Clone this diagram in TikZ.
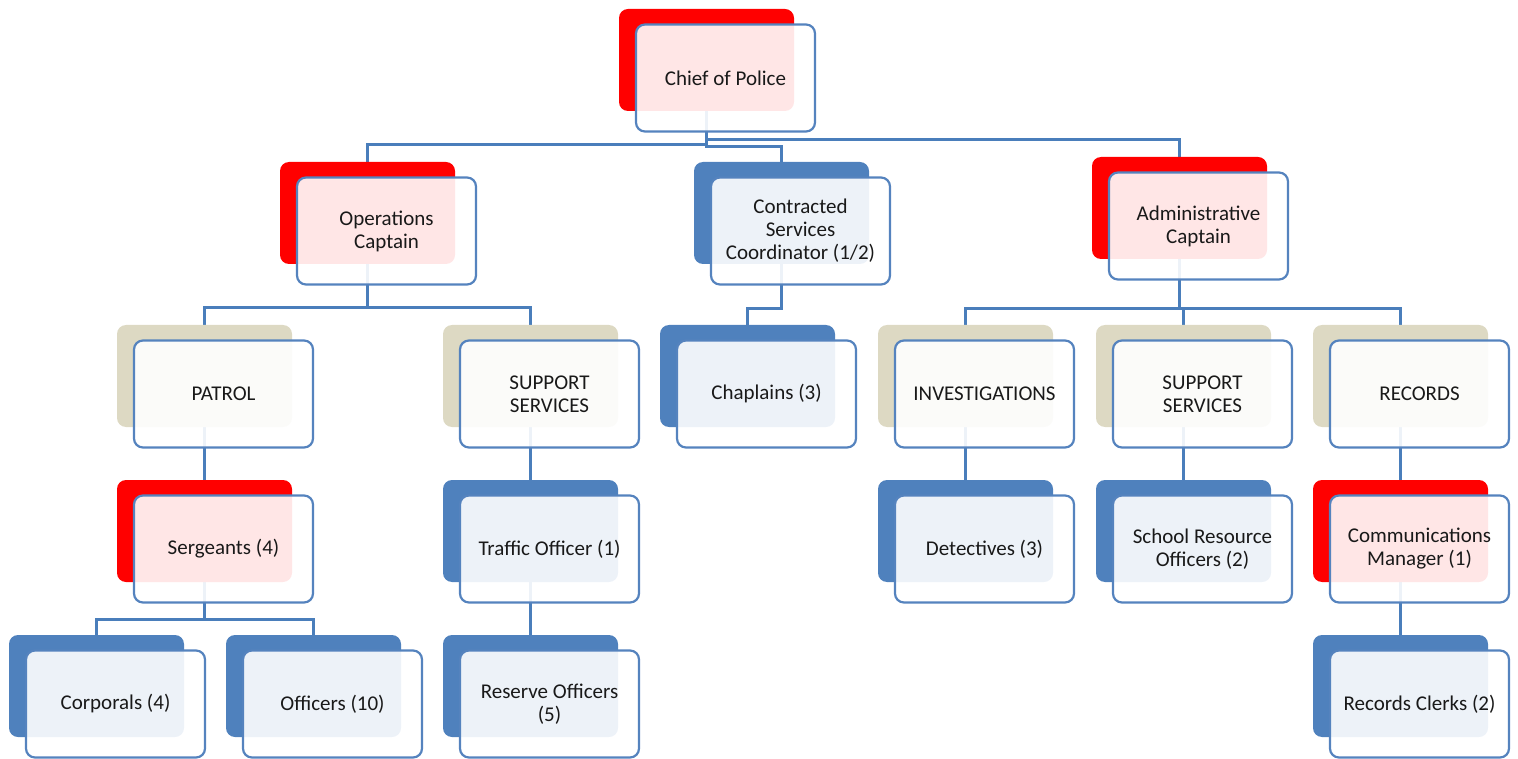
\documentclass[tikz,border=0pt]{standalone}
\usepackage{fontspec}
\setmainfont{Carlito}
\usepackage{xcolor}
\usetikzlibrary{backgrounds}
\definecolor{chiefred}{HTML}{FF0000}
\definecolor{tanback}{HTML}{DDD9C3}
\definecolor{blueback}{HTML}{4F81BD}
\definecolor{linkblue}{HTML}{4A7EBB}
\definecolor{edgeblue}{HTML}{5583BE}

\begin{document}
\begin{tikzpicture}[x=1pt, y=-1pt,
    back/.style={rectangle, rounded corners=9pt, minimum width=175pt, minimum height=102pt, inner sep=0pt},
    front/.style={rectangle, rounded corners=9pt, minimum width=179pt, minimum height=107pt, inner sep=0pt,
        draw=edgeblue, line width=2.2pt, fill=white, fill opacity=0.9, text opacity=1,
        align=center, text=black!90, font=\fontsize{21}{23}\selectfont},
    link/.style={draw=linkblue, line width=3pt}]
    \useasboundingbox (0,0) rectangle (1518,759);

    \node[back, fill=chiefred] (chiefB) at (706.5,60) {};
    \node[front] (chief) at (725.5,78) {Chief of Police};

    \node[back, fill=chiefred] (opsB) at (367.5,213) {};
    \node[front] (ops) at (386.5,231) {Operations\\Captain};
    \node[back, fill=blueback] (contrB) at (781.5,213) {};
    \node[front] (contr) at (800.5,231) {Contracted\\Services\\Coordinator (1/2)};
    \node[back, fill=chiefred] (adminB) at (1179.5,208) {};
    \node[front] (admin) at (1198.5,226) {Administrative\\Captain};

    \node[back, fill=tanback] (patrolB) at (204.5,376) {};
    \node[front] (patrol) at (223.5,394) {PATROL};
    \node[back, fill=tanback] (suplB) at (530.5,376) {};
    \node[front] (supl) at (549.5,394) {SUPPORT\\SERVICES};
    \node[back, fill=blueback] (chapB) at (747.5,376) {};
    \node[front] (chap) at (766.5,394) {Chaplains (3)};
    \node[back, fill=tanback] (invB) at (965.5,376) {};
    \node[front] (inv) at (984.5,394) {INVESTIGATIONS};
    \node[back, fill=tanback] (suprB) at (1183.5,376) {};
    \node[front] (supr) at (1202.5,394) {SUPPORT\\SERVICES};
    \node[back, fill=tanback] (recB) at (1400.5,376) {};
    \node[front] (rec) at (1419.5,394) {RECORDS};

    \node[back, fill=chiefred] (sergB) at (204.5,531) {};
    \node[front] (serg) at (223.5,549) {Sergeants (4)};
    \node[back, fill=blueback] (trafB) at (530.5,531) {};
    \node[front] (traf) at (549.5,549) {Traffic Officer (1)};
    \node[back, fill=blueback] (detB) at (965.5,531) {};
    \node[front] (det) at (984.5,549) {Detectives (3)};
    \node[back, fill=blueback] (sroB) at (1183.5,531) {};
    \node[front] (sro) at (1202.5,549) {School Resource\\Officers (2)};
    \node[back, fill=chiefred] (commB) at (1400.5,531) {};
    \node[front] (comm) at (1419.5,549) {Communications\\Manager (1)};

    \node[back, fill=blueback] (corpB) at (96.5,686) {};
    \node[front] (corp) at (115.5,704) {Corporals (4)};
    \node[back, fill=blueback] (offB) at (313.5,686) {};
    \node[front] (off) at (332.5,704) {Officers (10)};
    \node[back, fill=blueback] (resB) at (530.5,686) {};
    \node[front] (res) at (549.5,704) {Reserve Officers\\(5)};
    \node[back, fill=blueback] (clerkB) at (1400.5,686) {};
    \node[front] (clerk) at (1419.5,704) {Records Clerks (2)};

    \begin{pgfonlayer}{background}
    \draw[link] (chiefB.south) -- ++(0,33) -| (opsB.north);
    \draw[link] (chiefB.south) -- ++(0,35) -| (contrB.north);
    \draw[link] (chiefB.south) -- ++(0,28) -| (adminB.north);
    \draw[link] (opsB.south) -- ++(0,43) -| (patrolB.north);
    \draw[link] (opsB.south) -- ++(0,43) -| (suplB.north);
    \draw[link] (contrB.south) -- ++(0,44) -| (chapB.north);
    \draw[link] (adminB.south) -- ++(0,49) -| (invB.north);
    \draw[link] (adminB.south) -- ++(0,49) -| (suprB.north);
    \draw[link] (adminB.south) -- ++(0,49) -| (recB.north);
    \draw[link] (patrolB.south) -- (sergB.north);
    \draw[link] (suplB.south) -- (trafB.north);
    \draw[link] (invB.south) -- (detB.north);
    \draw[link] (suprB.south) -- (sroB.north);
    \draw[link] (recB.south) -- (commB.north);
    \draw[link] (sergB.south) -- ++(0,37) -| (corpB.north);
    \draw[link] (sergB.south) -- ++(0,37) -| (offB.north);
    \draw[link] (trafB.south) -- (resB.north);
    \draw[link] (commB.south) -- (clerkB.north);
    \end{pgfonlayer}
\end{tikzpicture}
\end{document}
